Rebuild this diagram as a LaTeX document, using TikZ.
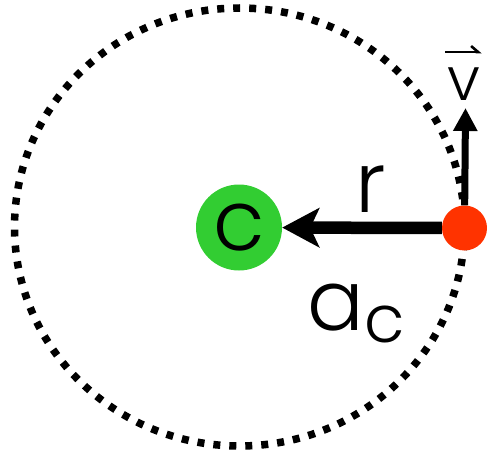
\documentclass[tikz,border=0pt]{standalone}
\usepackage{fontspec}
\setmainfont{Poppins}[UprightFont=* Light]
\usepackage{xcolor}
\usetikzlibrary{arrows.meta,positioning}
\definecolor{centergreen}{RGB}{50,205,50}
\definecolor{bodyred}{RGB}{255,51,0}

\begin{document}
\begin{tikzpicture}[x=1pt, y=-1pt, every node/.style={inner sep=0pt},
  bigfont/.style={font=\fontsize{84}{90}\selectfont}]
\useasboundingbox (0,0) rectangle (487,452);
% orbit
\draw[line width=7.5pt, dash pattern=on 7pt off 9pt] (239.5,227) ellipse [x radius=225, y radius=219];

\node[circle, fill=centergreen, minimum size=86pt, bigfont] (ctr) at (239,227.5) {c};
\node[circle, fill=bodyred, minimum size=45pt] (body) at (464.5,228) {};
\coordinate (vtip) at (465.5,108);

\draw[line width=12.5pt, -{Stealth[length=37pt, width=39pt, inset=9pt]}] (body) -- (ctr);
\draw[line width=7pt, -{Triangle[length=23pt, width=23pt]}] (body) -- (vtip);

\node[bigfont, anchor=base] (rlab) at (371,212) {r};
\node[bigfont, anchor=base west] (alab) at (307,330) {a\kern0.5pt\raisebox{-12pt}{\fontsize{66}{66}\selectfont c}};
\node[font=\fontsize{60}{60}\selectfont, anchor=base] (vlab) at (464,100) {v};
\draw[line width=2.6pt, -{Straight Barb[left, length=7pt, width=12pt]}] ([xshift=-2pt, yshift=15pt]vlab.north west) -- ([xshift=1pt, yshift=15pt]vlab.north east);
\end{tikzpicture}
\end{document}
